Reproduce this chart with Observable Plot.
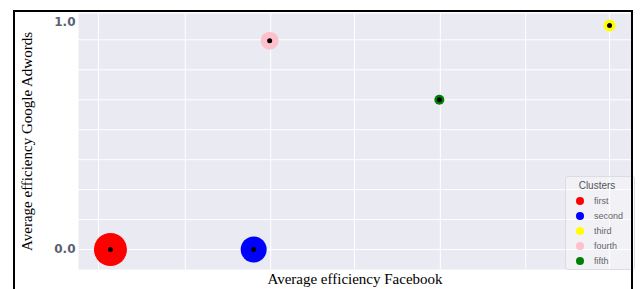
<!DOCTYPE html>
<html><head><meta charset="utf-8">
<script src="https://cdn.jsdelivr.net/npm/d3@7"></script>
<script src="https://cdn.jsdelivr.net/npm/@observablehq/plot@0.6"></script>
<style>
body{margin:0;background:#fff;}
#wrap{position:relative;width:643px;height:289px;overflow:hidden;}
#wrap svg{position:absolute;left:0;top:0;}
#frame{position:absolute;left:13px;top:10px;width:620px;height:290px;box-sizing:border-box;border:2px solid #000;border-bottom:none;pointer-events:none;}
#legend{position:absolute;left:565px;top:176px;width:70px;height:94px;box-sizing:border-box;background:rgba(255,255,255,0.35);border:1px solid #dcdce4;border-radius:3px;font-family:"Liberation Sans",Arial,sans-serif;color:#666;}
#legend .title{position:absolute;left:0;width:62px;top:3px;text-align:center;font-size:10px;color:#555;}
#legend .item{position:absolute;left:10px;font-size:9px;height:12px;line-height:12px;white-space:nowrap;}
#legend .sw{display:inline-block;width:8px;height:8px;border-radius:50%;vertical-align:middle;margin-right:10px;position:relative;top:-1px;}
</style></head>
<body><div id="wrap"></div>
<script>
const clusters = ["first", "second", "third", "fourth", "fifth"];
const facebook = [0.0, 0.287, 1.0, 0.319, 0.659];
const adwords = [0.0, 0.0, 0.987, 0.92, 0.66];
const clusterSize = [272, 169, 36, 81, 25];
const colors = ["#ff0000", "#0000ff", "#ffff00", "#ffc0cb", "#008000"];
const xGrid = [-0.024, 0.15, 0.321, 0.489, 0.661, 0.832, 1.0];
const yGrid = [0, 0.132, 0.264, 0.396, 0.528, 0.66, 0.792, 0.924];
const yTicks = [0, 1];
const xTitle = "Average efficiency Facebook";
const yTitle = "Average efficiency Google Adwords";
const legendTitle = "Clusters";

const data = clusters.map((c, i) => ({cluster: c, fb: facebook[i], ad: adwords[i], n: clusterSize[i]}));

const chart = Plot.plot({
  width: 643, height: 289,
  marginLeft: 78, marginRight: 12, marginTop: 13, marginBottom: 20,
  style: {background: "transparent", fontFamily: "Liberation Serif"},
  x: {domain: [-0.064, 1.044], axis: null},
  y: {domain: [-0.088, 1.040], axis: null},
  color: {domain: clusters, range: colors},
  r: {domain: [0, 272], range: [0, 16.5]},
  marks: [
    Plot.frame({fill: "#eaeaf2", stroke: null}),
    Plot.gridX(xGrid, {stroke: "#ffffff", strokeOpacity: 1, strokeWidth: 1}),
    Plot.gridY(yGrid, {stroke: "#ffffff", strokeOpacity: 1, strokeWidth: 1}),
    Plot.axisY(yTicks, {tickSize: 0, tickPadding: 3, tickFormat: d3.format(".1f"), fontSize: 12, fontWeight: "bold", fill: "#5a6272", fontFamily: "DejaVu Sans", label: null}),
    Plot.dot(data, {x: "fb", y: "ad", r: "n", fill: "cluster", stroke: null}),
    Plot.dot(data, {x: "fb", y: "ad", r: 2.5, fill: "black"}),
    Plot.text([xTitle], {text: d => d, frameAnchor: "bottom", textAnchor: "middle", dy: 14, fontSize: 15, fill: "#000", fontFamily: "Liberation Serif"}),
    Plot.text([yTitle], {text: d => d, frameAnchor: "left", textAnchor: "middle", dx: -51, rotate: -90, fontSize: 15, fill: "#000", fontFamily: "Liberation Serif"})
  ]
});

const wrap = document.getElementById("wrap");
wrap.appendChild(chart);

const legend = document.createElement("div");
legend.id = "legend";
const t = document.createElement("div");
t.className = "title";
t.textContent = legendTitle;
legend.appendChild(t);
clusters.forEach((c, i) => {
  const it = document.createElement("div");
  it.className = "item";
  it.style.top = (18 + i * 15) + "px";
  const sw = document.createElement("span");
  sw.className = "sw";
  sw.style.background = colors[i];
  it.appendChild(sw);
  it.appendChild(document.createTextNode(c));
  legend.appendChild(it);
});
wrap.appendChild(legend);

const frame = document.createElement("div");
frame.id = "frame";
wrap.appendChild(frame);
</script>
</body></html>
